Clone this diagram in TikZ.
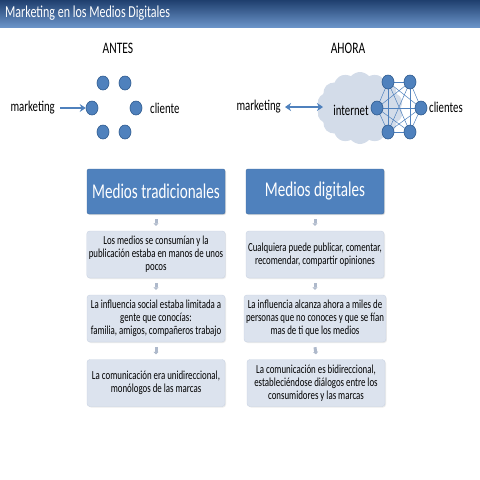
\documentclass[tikz,border=0pt]{standalone}
\usepackage{fontspec}
\setmainfont[FakeStretch=0.72]{Carlito}
\usetikzlibrary{shapes.symbols,shapes.geometric,arrows.meta,shadows,calc}
\pgfdeclarelayer{bg}
\pgfdeclarelayer{mid}
\pgfsetlayers{bg,mid,main}
\definecolor{nodeblue}{HTML}{4F81BD}
\definecolor{nodeedge}{HTML}{2E5A8E}
\definecolor{boxfill}{HTML}{DCE3EE}
\definecolor{boxedge}{HTML}{C9D3E3}
\definecolor{titletop}{HTML}{1F3F6E}
\definecolor{titlebot}{HTML}{6A93C8}
\definecolor{cloudfill}{HTML}{D3DCE9}
\definecolor{smallarrow}{HTML}{AEB9CB}
\tikzset{
  dot/.style={ellipse,fill=nodeblue,draw=nodeedge,line width=0.6pt,minimum width=12pt,minimum height=14pt,inner sep=0pt},
  lbl/.style={font=\fontsize{15}{16}\selectfont,inner sep=1pt},
  head/.style={rounded corners=2pt,fill=nodeblue,draw=nodeblue!85!black,minimum width=138pt,minimum height=45pt,text=white,font=\fontsize{21}{24}\selectfont,drop shadow={opacity=0.25,shadow xshift=1pt,shadow yshift=-1pt}},
  item/.style={rounded corners=3pt,fill=boxfill,draw=boxedge,minimum width=138pt,minimum height=47pt,align=center,inner sep=2pt,font=\fontsize{12.3}{13}\selectfont,drop shadow={opacity=0.15,shadow xshift=1pt,shadow yshift=-1pt}},
  darr/.style={-{Triangle[length=2.5pt,width=5pt]},line width=3pt,draw=smallarrow},
  conn/.style={draw=nodeblue,line width=0.5pt},
  bigarr/.style={draw=nodeblue,line width=1.8pt,-{Stealth[length=6pt,width=8pt]}},
}
\begin{document}
\begin{tikzpicture}[x=1pt,y=-1pt]
\useasboundingbox (0,0) rectangle (480,480);
\begin{pgfonlayer}{bg}
\fill[white] (0,0) rectangle (480,480);
\end{pgfonlayer}
% title bar
\shade[top color=titletop,bottom color=titlebot] (0,0) rectangle (480,27);
\node[anchor=west,text=white,font=\fontsize{16.7}{18}\selectfont,inner sep=0pt] (title) at (5,13) {Marketing en los Medios Digitales};
% ANTES
\node[lbl,font=\fontsize{16}{18}\selectfont] (antes) at (118,48) {ANTES};
\node[dot] (a1) at (103,83) {};
\node[dot] (a2) at (125,83) {};
\node[dot] (a3) at (92,108) {};
\node[dot] (a4) at (136,108) {};
\node[dot] (a5) at (103,132) {};
\node[dot] (a6) at (125,132) {};
\node[lbl,anchor=east] (mk1) at (56,108) {marketing};
\node[lbl,anchor=west] (cl1) at (149,108) {cliente};
\draw[bigarr] ($(mk1.east)+(4,0)$) -- (a3.west);
% AHORA
\node[lbl,font=\fontsize{16}{18}\selectfont] (ahora) at (348,48) {AHORA};
\begin{pgfonlayer}{bg}
\node[cloud,cloud puffs=14,cloud puff arc=100,aspect=1.15,fill=cloudfill,draw=none,minimum width=86pt,minimum height=72pt] (cloud) at (360,108) {};
\end{pgfonlayer}
\node[lbl] (inet) at (351,110) {internet};
\node[dot] (b1) at (388,82) {};
\node[dot] (b2) at (410,82) {};
\node[dot] (b3) at (377,108) {};
\node[dot] (b4) at (421,108) {};
\node[dot] (b5) at (388,132) {};
\node[dot] (b6) at (410,132) {};
\begin{pgfonlayer}{mid}
\foreach \i/\j in {b1/b2,b1/b3,b1/b4,b1/b5,b1/b6,b2/b3,b2/b4,b2/b5,b2/b6,b3/b4,b3/b5,b3/b6,b4/b5,b4/b6,b5/b6}
  \draw[conn] (\i.center) -- (\j.center);
\end{pgfonlayer}
\node[lbl,anchor=west] (cl2) at (428,107) {clientes};
\node[lbl,anchor=east] (mk2) at (282,107) {marketing};
\coordinate (m2s) at ($(mk2.east)+(3,0)$);
\coordinate (m2e) at ($(m2s)+(38,0)$);
\draw[draw=nodeblue,line width=1.8pt,{Stealth[length=6pt,width=8pt]}-{Stealth[length=6pt,width=8pt]}] (m2s) -- (m2e);
% columns
\node[head] (h1) at (156,191.5) {Medios tradicionales};
\node[item] (l1) at (156,254.5) {Los medios se consumían y la\\publicación estaba en manos de unos\\pocos};
\node[item] (l2) at (156,318.5) {La influencia social estaba limitada a\\gente que conocías:\\familia, amigos, compañeros trabajo};
\node[item] (l3) at (156,383) {La comunicación era unidireccional,\\monólogos de las marcas};
\node[head] (h2) at (315,191.5) {Medios digitales};
\node[item] (r1) at (315,254.5) {Cualquiera puede publicar, comentar,\\recomendar, compartir opiniones};
\node[item] (r2) at (315,318.5) {La influencia alcanza ahora a miles de\\personas que no conoces y que se fían\\mas de ti que los medios};
\node[item] (r3) at (316,383) {La comunicación es bidireccional,\\estableciéndose diálogos entre los\\consumidores y las marcas};
\foreach \a/\b in {h1/l1,l1/l2,l2/l3,h2/r1,r1/r2,r2/r3}
  \draw[darr] ($(\a.south)+(0,5)$) -- ($(\b.north)+(0,-5)$);
\end{tikzpicture}
\end{document}
